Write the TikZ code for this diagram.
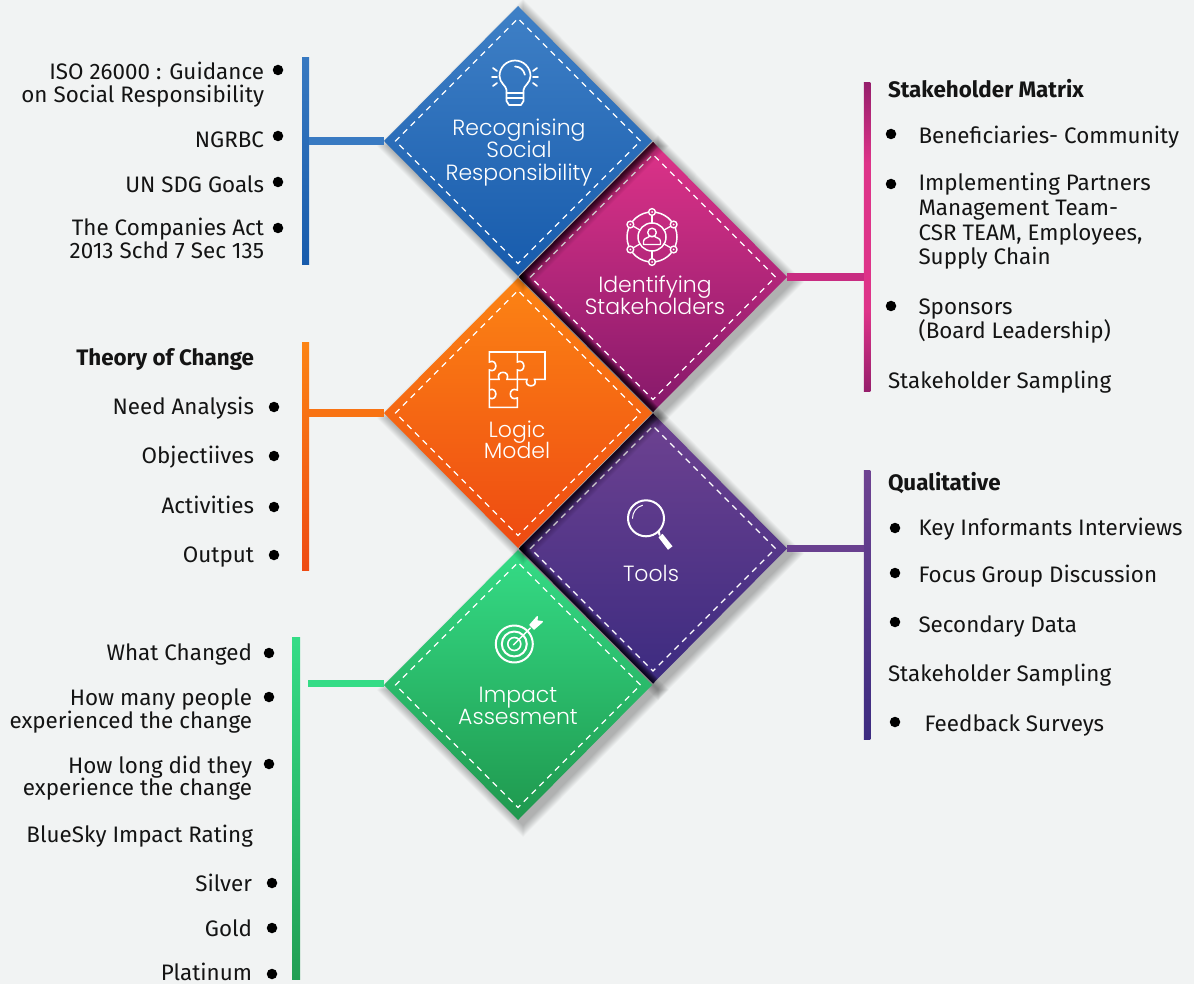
\documentclass[tikz,border=0pt]{standalone}
\usepackage{fontspec}
\setmainfont{Fira Sans}
\newfontfamily\titlefont{Poppins Light}
\usetikzlibrary{shapes.geometric}
\definecolor{bgc}{HTML}{F1F3F3}
\definecolor{inkc}{HTML}{141414}
\definecolor{blueT}{HTML}{3F80C6}
\definecolor{blueB}{HTML}{175BAC}
\definecolor{pinkT}{HTML}{DE3389}
\definecolor{pinkB}{HTML}{85196A}
\definecolor{barDark}{HTML}{7A1660}
\definecolor{oranT}{HTML}{FC8414}
\definecolor{oranB}{HTML}{EE4A12}
\definecolor{purpT}{HTML}{6E4291}
\definecolor{purpB}{HTML}{3C2B80}
\definecolor{greeT}{HTML}{35DC86}
\definecolor{greeB}{HTML}{1F984E}
\pgfdeclareverticalshading{pinkbarshade}{100bp}{color(0bp)=(barDark); color(20bp)=(barDark); color(38bp)=(pinkT); color(62bp)=(pinkT); color(80bp)=(barDark); color(100bp)=(barDark)}
\tikzset{
  x=1pt,y=-1pt,
  bodytext/.style={text=inkc,inner sep=0pt,outer sep=0pt,font=\fontsize{22.4}{24}\selectfont},
  boldtext/.style={font=\fontsize{22.4}{24}\selectfont\bfseries},
  rtext/.style={bodytext,anchor=base east,align=right},
  ltext/.style={bodytext,anchor=base west,align=left},
  bulletdot/.style={circle,fill=black,inner sep=0pt,minimum size=10.5pt,outer sep=0pt},
  tile/.style={diamond,aspect=1,inner sep=0pt,outer sep=0pt,minimum width=268pt,minimum height=270pt,draw=none},
  stitch/.style={diamond,aspect=1,inner sep=0pt,outer sep=0pt,minimum width=245pt,minimum height=245pt,draw=white,line width=1.3pt,dash pattern=on 6pt off 5pt},
  tiletitle/.style={text=white,inner sep=0pt,outer sep=0pt,align=center,anchor=base,font=\titlefont\fontsize{22}{22.5}\selectfont},
  bar/.style={rectangle,inner sep=0pt,outer sep=0pt,minimum width=7pt},
  stub/.style={line width=7.5pt},
  icon/.style={draw=white,line width=1.7pt,line cap=round,line join=round},
}
% soft drop shadow on the page
\newcommand{\softshadow}[2]{%
  \foreach \k in {1,...,12}{
    \fill[black,opacity=0.022] ({#1+5-134-\k},{#2+5}) -- ({#1+5},{#2+5-135-\k}) -- ({#1+5+134+\k},{#2+5}) -- ({#1+5},{#2+5+135+\k}) -- cycle;
  }}
% dark shadow cast by a neighbouring tile (#1,#2) into the tile at (#3,#4)
\newcommand{\contactshadow}[4]{%
  \begin{scope}
    \clip ({#3-134},#4) -- (#3,{#4-135}) -- ({#3+134},#4) -- (#3,{#4+135}) -- cycle;
    \foreach \k in {1,2,...,12}{
      \fill[black,opacity=0.1] ({#1-134-\k},#2) -- (#1,{#2-135-\k}) -- ({#1+134+\k},#2) -- (#1,{#2+135+\k}) -- cycle;
    }
  \end{scope}}
\newcommand{\dotat}[3]{\node[bulletdot] (#1) at (#2,#3) {};}
\begin{document}
\begin{tikzpicture}
\useasboundingbox (0,0) rectangle (1194,984);
\fill[bgc] (0,0) rectangle (1194,984);

% tiles, back to front
\softshadow{653}{548.5}
\node[tile,top color=purpT,bottom color=purpB] (tools) at (653,548.5) {};
\contactshadow{518}{413}{653}{548.5}
\contactshadow{518}{685}{653}{548.5}
\node[stitch] (toolsS) at (653,548.5) {};
\softshadow{653}{277}
\node[tile,top color=pinkT,bottom color=pinkB] (ident) at (653,277) {};
\contactshadow{518}{141}{653}{277}
\contactshadow{518}{413}{653}{277}
\node[stitch] (identS) at (653,277) {};
\softshadow{518}{685}
\node[tile,top color=greeT,bottom color=greeB] (impact) at (518,685) {};
\node[stitch] (impactS) at (518,685) {};
\softshadow{518}{413}
\node[tile,top color=oranT,bottom color=oranB] (logic) at (518,413) {};
\node[stitch] (logicS) at (518,413) {};
\softshadow{518}{141}
\node[tile,top color=blueT,bottom color=blueB] (recog) at (518,141) {};
\node[stitch] (recogS) at (518,141) {};

% bars
\node[bar,minimum height=207pt,top color=blueT!80!blueB,bottom color=blueB] (barBlue) at (305.5,161.5) {};
\node[bar,minimum height=308pt,minimum width=6.5pt,shading=pinkbarshade] (barPink) at (867,237) {};
\node[bar,minimum height=228pt,top color=oranT,bottom color=oranB] (barOrange) at (305.5,456) {};
\node[bar,minimum height=269pt,minimum width=6.5pt,top color=purpT,bottom color=purpB] (barPurple) at (867,604.5) {};
\node[bar,minimum height=342pt,minimum width=8pt,top color=greeT,bottom color=greeB!90!greeT] (barGreen) at (296,808) {};

% connectors
\coordinate (greenEnd) at (308,683.5);
\draw[stub,draw=blueT!85!blueB] (barBlue.east |- recog.west) -- (recog.west);
\draw[stub,draw=pinkT!75!pinkB] (ident.east) -- (barPink.west |- ident.east);
\draw[stub,draw=oranT!70!oranB] (barOrange.east |- logic.west) -- (logic.west);
\draw[stub,draw=purpT!90!purpB] (tools.east) -- (barPurple.west |- tools.east);
\draw[stub,draw=greeT] (greenEnd) -- (impact.west |- greenEnd);

% tile titles (anchor: last line)
\node[tiletitle] (tRecog) at (519,180.5) {Recognising\\Social\\Responsibility};
\node[tiletitle] (tIdent) at (655,315) {Identifying\\Stakeholders};
\node[tiletitle] (tLogic) at (517,458.5) {Logic\\[-1pt]Model};
\node[tiletitle] (tTools) at (651,581) {Tools};
\node[tiletitle] (tImpact) at (518,724) {Impact\\[-1pt]Assesment};

% bulb icon
\begin{scope}[shift={(515,77)}]
  \draw[icon] (-8.5,16) -- (-8.5,13) .. controls (-8.5,9) and (-15.5,6) .. (-15.5,-1) arc (180:360:15.5) .. controls (15.5,6) and (8.5,9) .. (8.5,13) -- (8.5,24) -- (6,28) -- (-6,28) -- (-8.5,24) -- cycle;
  \draw[icon] (-8.5,16) -- (8.5,16) (-8.5,21) -- (8.5,21);
  \draw[icon] (0,-10.5) arc (270:350:10);
  \foreach \s in {-1,1}{
    \draw[icon] (\s*18,0) -- (\s*23,0) (\s*18,-6) -- (\s*22,-9) (\s*18,6) -- (\s*22,9);
  }
\end{scope}

% stakeholder icon
\begin{scope}[shift={(652,237)}]
  \draw[icon,line width=1.5pt] (0,0) circle (14);
  \foreach \a in {30,90,150,210,270,330}{
    \draw[icon,line width=1.4pt] (\a:25) circle (3.4);
    \fill[white] (\a:25) circle (1);
    \draw[icon,line width=1.3pt] (\a:14) -- (\a:21.6);
    \draw[icon,line width=1.5pt] ({\a+9}:25) arc ({\a+9}:{\a+51}:25);
  }
  \draw[icon,line width=1.4pt] (0,-4.5) circle (4.3);
  \draw[icon,line width=1.4pt] (-8.5,7.5) -- (-8.5,4.5) .. controls (-8.5,1) and (-4,1) .. (-2.8,-0.5) -- (2.8,-0.5) .. controls (4,1) and (8.5,1) .. (8.5,4.5) -- (8.5,7.5) -- cycle;
\end{scope}

% puzzle icon
\begin{scope}[icon,line width=1.6pt,line cap=butt,line join=miter]
  \draw (517.3,352) -- (489.3,352) -- (489.3,362) .. controls (498,358) and (498,374) .. (489.3,370) -- (489.3,407.3) -- (517.3,407.3) -- (517.3,398) .. controls (508,402) and (508,386) .. (517.3,390) -- (517.3,370) .. controls (526,374) and (526,358) .. (517.3,362) -- cycle;
  \draw (517.3,352) -- (545,352) -- (545,379.3) -- (534.5,379.3) .. controls (539,388) and (523,388) .. (527,379.3) -- (517.3,379.3);
  \draw (489.3,379.3) -- (499,379.3) .. controls (495,370) and (511,370) .. (507,379.3) -- (517.3,379.3);
  \draw (489.3,398) .. controls (498,402) and (498,386) .. (489.3,390);
\end{scope}

% magnifier icon
\begin{scope}[shift={(646,518.3)}]
  \draw[icon,line width=2pt] (0,0) circle (18);
  \draw[icon,line width=1pt] (180:13.5) arc (180:255:13.5);
  \draw[icon,line width=2pt] (45:18) -- (13.5,16.5);
  \fill[white] (12.5,19) -- (16.5,15.5) -- (26.5,28) -- (22,31.5) -- cycle;
\end{scope}

% target icon
\begin{scope}[shift={(514.3,644)}]
  \draw[icon,line width=2pt] (0,0) circle (18.5);
  \draw[icon,line width=2pt] (0,0) circle (12.5);
  \draw[icon,line width=1.6pt] (0,0) circle (6.5);
  \draw[icon,line width=1.4pt] (-1,1) -- (16,-16);
  \draw[icon,line width=1.4pt,fill=white] (15.7,-19) -- (23,-27.3) -- (22.4,-23) -- (28,-22.3) -- (19.7,-15) -- cycle;
\end{scope}

% text, upper left (anchor: last line)
\node[rtext] (a1) at (264,103) {ISO 26000 : Guidance\\[-1pt]on Social Responsibility};
\node[rtext] (a2) at (264,148) {NGRBC};
\node[rtext] (a3) at (264,193) {UN SDG Goals};
\node[rtext] (a4) at (264,259) {The Companies Act\\[-1pt]2013 Schd 7 Sec 135};
\dotat{a1d}{278}{70}\dotat{a2d}{278}{136}\dotat{a3d}{278}{182}\dotat{a4d}{278}{228}

% text, middle left
\node[rtext,boldtext] (c0) at (254,365) {Theory of Change};
\node[rtext] (c1) at (254,414) {Need Analysis};
\node[rtext] (c2) at (254,463) {Objectiives};
\node[rtext] (c3) at (254,513) {Activities};
\node[rtext] (c4) at (254,562) {Output};
\dotat{c1d}{274}{407}\dotat{c2d}{274}{456}\dotat{c3d}{274}{507}\dotat{c4d}{274}{555}

% text, lower left
\node[rtext] (e1) at (252,660) {What Changed};
\node[rtext] (e2) at (252,728) {How many people\\[-1pt]experienced the change};
\node[rtext] (e3) at (252,795) {How long did they\\[-2pt]experience the change};
\node[rtext] (e4) at (253,842) {BlueSky Impact Rating};
\node[rtext] (e5) at (252,891) {Silver};
\node[rtext] (e6) at (252,936) {Gold};
\node[rtext] (e7) at (252,980.5) {Platinum};
\dotat{e1d}{269}{653}\dotat{e2d}{269}{697}\dotat{e3d}{269}{764}
\dotat{e5d}{272}{883}\dotat{e6d}{272}{928}\dotat{e7d}{272}{974}

% text, upper right
\node[ltext,boldtext] (b0) at (888,98) {Stakeholder Matrix};
\node[ltext] (b1) at (918.5,144) {Beneficiaries- Community};
\node[ltext] (b2) at (918.5,265) {Implementing Partners\\[1pt]Management Team-\\[1pt]CSR TEAM, Employees,\\Supply Chain};
\node[ltext] (b3) at (918.5,338) {Sponsors\\(Board Leadership)};
\node[ltext] (b4) at (888,388) {Stakeholder Sampling};
\dotat{b1d}{891}{134}\dotat{b2d}{891}{184}\dotat{b3d}{891}{306}

% text, lower right
\node[ltext,boldtext] (d0) at (888,490) {Qualitative};
\node[ltext] (d1) at (918.5,535) {Key Informants Interviews};
\node[ltext] (d2) at (918.5,582) {Focus Group Discussion};
\node[ltext] (d3) at (918.5,632) {Secondary Data};
\node[ltext] (d4) at (888,681) {Stakeholder Sampling};
\node[ltext] (d5) at (924.5,731) {Feedback Surveys};
\dotat{d1d}{895}{528}\dotat{d2d}{895}{573}\dotat{d3d}{895}{622}\dotat{d5d}{895}{722}
\end{tikzpicture}
\end{document}
